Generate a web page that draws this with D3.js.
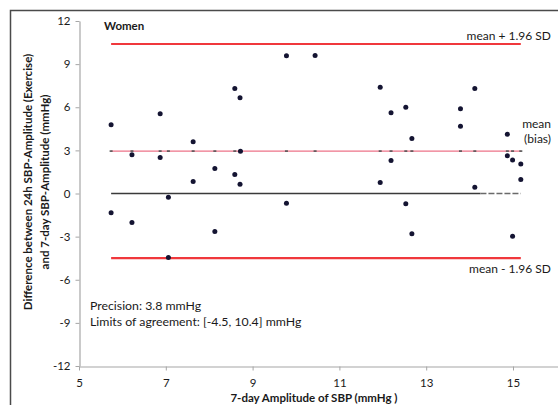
<!DOCTYPE html>
<html>
<head>
<meta charset="utf-8">
<script src="https://cdn.jsdelivr.net/npm/d3@7"></script>
<style>
  html, body { margin: 0; padding: 0; background: #fff; }
  svg { display: block; font-family: Lato, "Open Sans", sans-serif; }
</style>
</head>
<body>
<svg id="chart" width="558" height="405"></svg>
<script>
// Bland-Altman plot: 7-day amplitude vs. difference (24h exercise minus 7-day)
const amplitude = [5.74, 5.74, 6.22, 6.22, 6.87, 6.87, 7.06, 7.06, 7.63, 7.63,
                   8.13, 8.13, 8.59, 8.59, 8.71, 8.71, 8.72, 9.78, 9.78, 10.44,
                   11.94, 11.94, 12.19, 12.19, 12.53, 12.53, 12.67, 12.67,
                   13.79, 13.79, 14.12, 14.12, 14.87, 14.87, 14.99, 14.99, 15.18, 15.18];
const difference = [4.78, -1.34, 2.69, -2.02, 5.54, 2.50, -0.26, -4.45, 3.60, 0.83,
                    1.74, -2.64, 7.30, 1.32, 6.66, 0.65, 2.94, 9.58, -0.67, 9.60,
                    7.40, 0.77, 5.61, 2.30, 6.00, -0.72, 3.83, -2.80,
                    5.89, 4.68, 7.30, 0.44, 4.12, 2.63, 2.33, -2.98, 2.05, 0.97];

const meanBias = 2.95;
const upperLimit = 10.4;
const lowerLimit = -4.5;

const xTicks = [5, 7, 9, 11, 13, 15];
const yTicks = [-12, -9, -6, -3, 0, 3, 6, 9, 12];

const svg = d3.select("#chart");

const x = d3.scaleLinear().domain([5, 17]).range([79, 599.8]);
const y = d3.scaleLinear().domain([-12, 12]).range([366, 21]);

const xs = Array.from(new Set(amplitude)).sort(d3.ascending);
const xMin = d3.min(xs), xMax = d3.max(xs);

// outer frame
svg.append("rect")
  .attr("x", 10.5).attr("y", 10.5).attr("width", 640).attr("height", 500)
  .attr("fill", "none").attr("stroke", "#4a4a4a").attr("stroke-width", 1.5);

// axes
const axisColor = "#a6a6a6";
const yAxis = svg.append("g").attr("transform", "translate(79.5,0)")
  .call(d3.axisLeft(y).tickValues(yTicks).tickFormat(d => String(d)).tickSize(4).tickSizeOuter(0));
const xAxis = svg.append("g").attr("transform", "translate(0,366.5)")
  .call(d3.axisBottom(x).tickValues(xTicks).tickFormat(d => String(d)).tickSize(4).tickSizeOuter(0));
[xAxis, yAxis].forEach(g => {
  g.select(".domain").attr("stroke", axisColor).attr("stroke-width", 1.2);
  g.selectAll(".tick line").attr("stroke", axisColor);
  g.selectAll(".tick text").attr("fill", "#1a1a1a").style("font-size", "11.5px")
    .style("font-family", "Lato, sans-serif");
});
yAxis.selectAll(".tick text").attr("x", -9);
xAxis.selectAll(".tick text").attr("dy", "1.15em");

// reference lines
const lineGen = d3.line().x(d => x(d[0])).y(d => y(d[1]));
const red = "#f0383c";
svg.append("path").attr("d", lineGen([[xMin, upperLimit], [xMax, upperLimit]]))
  .attr("stroke", red).attr("stroke-width", 2.2).attr("fill", "none");
svg.append("path").attr("d", lineGen([[xMin, lowerLimit], [xMax, lowerLimit]]))
  .attr("stroke", red).attr("stroke-width", 2.2).attr("fill", "none");
svg.append("path").attr("d", lineGen([[xMin, meanBias], [xMax, meanBias]]))
  .attr("stroke", "#e8506a").attr("stroke-width", 1).attr("fill", "none");

// zero line: solid, then dashed over the dense right-hand cluster
const zeroBreak = 14.25;
svg.append("path").attr("d", lineGen([[xMin, 0], [zeroBreak, 0]]))
  .attr("stroke", "#3a3a3a").attr("stroke-width", 1.6).attr("fill", "none");
svg.append("path").attr("d", lineGen([[zeroBreak, 0], [xMax, 0]]))
  .attr("stroke", "#6a6a6a").attr("stroke-width", 1.4).attr("fill", "none")
  .attr("stroke-dasharray", "6,2");

// small markers of the bias series
svg.append("g").selectAll("rect").data(xs).join("rect")
  .attr("x", d => x(d) - 1.5).attr("y", y(meanBias) - 0.8)
  .attr("width", 3).attr("height", 1.6).attr("fill", "#555");

// data points
svg.append("g").selectAll("circle").data(amplitude.map((a, i) => [a, difference[i]])).join("circle")
  .attr("cx", d => x(d[0])).attr("cy", d => y(d[1])).attr("r", 2.5)
  .attr("fill", "#141432");

// annotations
const txt = (t, px, py, opts = {}) => svg.append("text")
  .attr("x", px).attr("y", py).text(t)
  .attr("fill", opts.fill || "#1a1a1a")
  .attr("text-anchor", opts.anchor || "start")
  .style("font-size", (opts.size || 11.5) + "px")
  .style("font-weight", opts.bold ? "bold" : "normal");

txt("Women", 104, 30, { bold: true, size: 11.5 });
txt("mean + 1.96 SD", 551, 40, { anchor: "end", size: 12 });
txt("mean", 551, 128, { anchor: "end", size: 12 });
txt("(bias)", 551, 143, { anchor: "end", size: 12 });
txt("mean - 1.96 SD", 551, 273, { anchor: "end", size: 12 });
txt("Precision: 3.8 mmHg", 90, 310, { size: 12.3 });
txt("Limits of agreement: [-4.5, 10.4] mmHg", 90, 326, { size: 12.3 });

// axis titles
txt("7-day Amplitude of SBP (mmHg )", 314, 402, { anchor: "middle", bold: true, size: 11.5 });
const yTitle = svg.append("text")
  .attr("transform", "translate(0,182) rotate(-90)")
  .attr("text-anchor", "middle").attr("fill", "#1a1a1a")
  .style("font-size", "11.5px").style("font-weight", "bold");
yTitle.append("tspan").attr("x", 0).attr("y", 32).text("Difference between 24h SBP-Amplitude (Exercise)");
yTitle.append("tspan").attr("x", 0).attr("y", 49).text("and 7-day SBP-Amplitude (mmHg)");
</script>
</body>
</html>
